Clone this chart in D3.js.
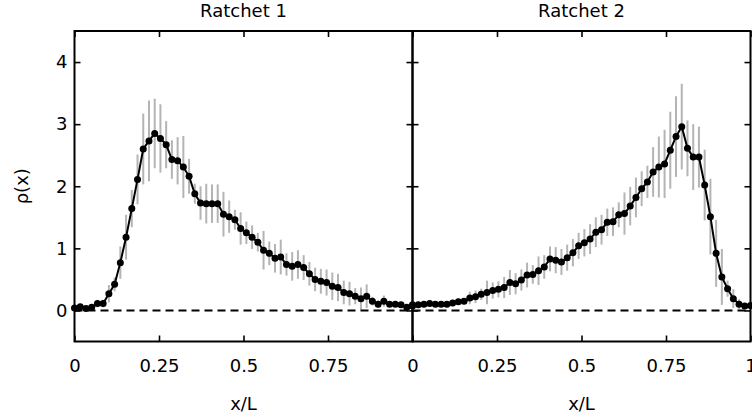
<!DOCTYPE html>
<html lang="en">
<head>
  <meta charset="UTF-8">
  <title>Ratchet density profiles</title>
  <style>
    body { margin: 0; padding: 0; background: #fff; }
    svg { display: block; font-family: "DejaVu Sans", sans-serif; }
  </style>
</head>
<body>
<svg width="752" height="418"></svg>
<script src="https://d3js.org/d3.v7.min.js"></script>
<script>
// density rho(x) at x = i/59, i = 0..59
const rho1 = [0.04, 0.06, 0.03, 0.05, 0.11, 0.11, 0.27, 0.42, 0.77, 1.18,
  1.64, 2.11, 2.60, 2.73, 2.85, 2.77, 2.67, 2.43, 2.41, 2.31,
  2.16, 1.88, 1.73, 1.72, 1.72, 1.72, 1.55, 1.51, 1.46, 1.32,
  1.25, 1.18, 1.10, 0.97, 0.92, 0.84, 0.86, 0.74, 0.71, 0.74,
  0.69, 0.59, 0.50, 0.47, 0.45, 0.39, 0.37, 0.29, 0.27, 0.23,
  0.19, 0.23, 0.15, 0.10, 0.15, 0.10, 0.10, 0.09, 0.05, 0.09];
const err1 = [0.03, 0.03, 0.03, 0.04, 0.06, 0.06, 0.14, 0.11, 0.26, 0.36,
  0.30, 0.40, 0.57, 0.65, 0.56, 0.55, 0.38, 0.31, 0.38, 0.50,
  0.28, 0.16, 0.27, 0.32, 0.31, 0.31, 0.36, 0.26, 0.16, 0.26,
  0.18, 0.19, 0.15, 0.31, 0.19, 0.23, 0.28, 0.18, 0.23, 0.23,
  0.20, 0.19, 0.19, 0.20, 0.21, 0.22, 0.22, 0.19, 0.19, 0.13,
  0.18, 0.19, 0.07, 0.06, 0.09, 0.04, 0.04, 0.03, 0.03, 0.03];
const rho2 = [0.07, 0.09, 0.10, 0.11, 0.10, 0.10, 0.10, 0.12, 0.14, 0.15,
  0.20, 0.22, 0.26, 0.29, 0.32, 0.34, 0.37, 0.45, 0.43, 0.49,
  0.57, 0.58, 0.64, 0.70, 0.83, 0.81, 0.78, 0.85, 0.93, 1.04,
  1.09, 1.15, 1.26, 1.30, 1.42, 1.43, 1.54, 1.56, 1.68, 1.82,
  1.96, 2.07, 2.23, 2.31, 2.36, 2.58, 2.80, 2.96, 2.61, 2.47,
  2.47, 2.02, 1.51, 0.92, 0.54, 0.35, 0.19, 0.10, 0.07, 0.08];
const err2 = [0.03, 0.04, 0.04, 0.04, 0.04, 0.04, 0.04, 0.05, 0.05, 0.05,
  0.10, 0.10, 0.09, 0.19, 0.13, 0.13, 0.17, 0.20, 0.17, 0.17,
  0.20, 0.15, 0.23, 0.19, 0.20, 0.21, 0.21, 0.21, 0.22, 0.21,
  0.22, 0.24, 0.24, 0.24, 0.22, 0.23, 0.20, 0.34, 0.31, 0.32,
  0.28, 0.26, 0.40, 0.49, 0.55, 0.62, 0.65, 0.69, 0.45, 0.53,
  0.49, 0.57, 0.61, 0.54, 0.45, 0.13, 0.15, 0.08, 0.03, 0.03];
const titles = ["Ratchet 1", "Ratchet 2"];
const xTicks = [0, 0.25, 0.5, 0.75, 1];
// the left panel's "1" sits under the right panel's "0"
const xTickLabels = [["0", "0.25", "0.5", "0.75", ""], ["0", "0.25", "0.5", "0.75", "1"]];
const yTicks = [0, 1, 2, 3, 4];

const panels = [
  {title: titles[0], rho: rho1, err: err1},
  {title: titles[1], rho: rho2, err: err2}
];

const svg = d3.select("svg");
const plotTop = 31, plotBottom = 341.5;
const panelW = 338;
const lefts = [74.5, 412.5];
const fs = 18;

const y = d3.scaleLinear().domain([-0.5, 4.5]).range([plotBottom, plotTop]);

panels.forEach((p, k) => {
  const x0 = lefts[k];
  const x = d3.scaleLinear().domain([0, 1]).range([x0, x0 + panelW]);
  const g = svg.append("g");
  const pts = p.rho.map((v, i) => ({x: i / (p.rho.length - 1), v: v, e: p.err[i]}));

  // error bars
  g.selectAll("line.err").data(pts).enter().append("line")
    .attr("class", "err")
    .attr("x1", d => x(d.x)).attr("x2", d => x(d.x))
    .attr("y1", d => y(d.v - d.e)).attr("y2", d => y(d.v + d.e))
    .attr("stroke", "#b4b4b4").attr("stroke-width", 2);

  // zero line
  g.append("line")
    .attr("x1", x(0)).attr("x2", x(1))
    .attr("y1", y(0)).attr("y2", y(0))
    .attr("stroke", "#000").attr("stroke-width", 2)
    .attr("stroke-dasharray", "8,5");

  const line = d3.line().x(d => x(d.x)).y(d => y(d.v));
  g.append("path").datum(pts)
    .attr("d", line)
    .attr("fill", "none").attr("stroke", "#000").attr("stroke-width", 2);

  g.selectAll("circle").data(pts).enter().append("circle")
    .attr("cx", d => x(d.x)).attr("cy", d => y(d.v))
    .attr("r", 3.5).attr("fill", "#000");

  // frame and inward ticks on all sides
  const tl = 6;
  const axB = d3.axisBottom(x).tickValues(xTicks).tickSize(-tl)
    .tickFormat((d, i) => xTickLabels[k][i]).tickPadding(18);
  const axT = d3.axisTop(x).tickValues(xTicks).tickSize(-tl).tickFormat("");
  const axL = d3.axisLeft(y).tickValues(yTicks).tickSize(-tl)
    .tickFormat(k === 0 ? d3.format("d") : "").tickPadding(7);
  const axR = d3.axisRight(y).tickValues(yTicks).tickSize(-tl).tickFormat("");

  const styleAxis = sel => {
    sel.select(".domain").remove();
    sel.selectAll(".tick line").attr("stroke", "#000").attr("stroke-width", 1.6);
    sel.selectAll("text").attr("font-size", fs).attr("fill", "#000")
      .attr("font-family", "DejaVu Sans, sans-serif");
  };
  svg.append("g").attr("transform", `translate(0,${plotBottom})`).call(axB).call(styleAxis);
  svg.append("g").attr("transform", `translate(0,${plotTop})`).call(axT).call(styleAxis);
  svg.append("g").attr("transform", `translate(${x0},0)`).call(axL).call(styleAxis);
  svg.append("g").attr("transform", `translate(${x0 + panelW},0)`).call(axR).call(styleAxis);

  svg.append("rect")
    .attr("x", x0).attr("y", plotTop).attr("width", panelW).attr("height", plotBottom - plotTop)
    .attr("fill", "none").attr("stroke", "#000").attr("stroke-width", 2);

  svg.append("text")
    .attr("x", x0 + panelW / 2).attr("y", 17)
    .attr("text-anchor", "middle").attr("font-size", fs)
    .text(p.title);

  svg.append("text")
    .attr("x", x0 + panelW / 2).attr("y", 410)
    .attr("text-anchor", "middle").attr("font-size", fs)
    .text("x/L");
});

svg.append("text")
  .attr("transform", `translate(28,${y(2)}) rotate(-90)`)
  .attr("text-anchor", "middle").attr("font-size", fs)
  .text("ρ(x)");
</script>
</body>
</html>
